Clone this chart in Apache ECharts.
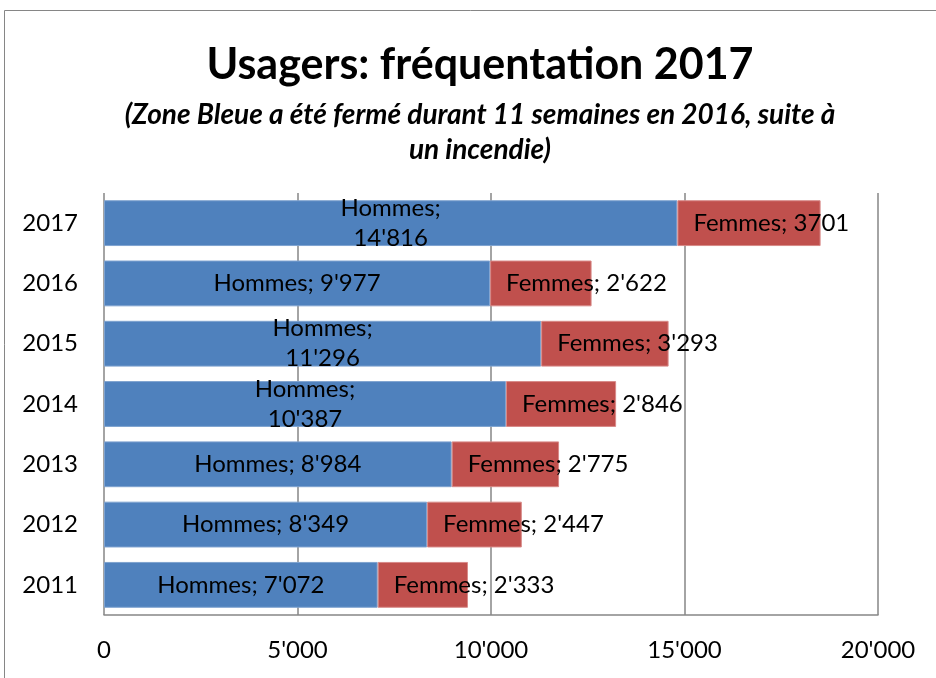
<!DOCTYPE html>
<html>
<head>
<meta charset="utf-8">
<script src="https://cdn.jsdelivr.net/npm/echarts@6/dist/echarts.min.js"></script>
<style>
  html, body { margin: 0; padding: 0; background: #fff; }
  #chart { width: 936px; height: 678px; }
</style>
</head>
<body>
<div id="chart"></div>
<script>
// données (de bas en haut)
const years = ['2011', '2012', '2013', '2014', '2015', '2016', '2017'];
const hommes = [7072, 8349, 8984, 10387, 11296, 9977, 14816];
const femmes = [2333, 2447, 2775, 2846, 3293, 2622, 3701];
const xTicks = [0, 5000, 10000, 15000, 20000];

const FONT = 'Lato, "Open Sans", sans-serif';

// séparateur de milliers avec apostrophe, comme dans Excel
function fmt(v) {
    return String(v).replace(/\B(?=(\d{3})+(?!\d))/g, "'");
}

let chart = echarts.init(document.getElementById('chart'));

let option = {
    animation: false,
    textStyle: { fontFamily: FONT, color: '#000' },
    title: [
        {
            text: 'Usagers: fréquentation 2017',
            left: 475, top: 39, textAlign: 'center',
            textStyle: { fontFamily: FONT, fontSize: 43, fontWeight: 'bold', color: '#000' }
        },
        {
            text: '(Zone Bleue a été fermé durant 11 semaines en 2016, suite à\nun incendie)',
            left: 475, top: 92, textAlign: 'center',
            textStyle: { fontFamily: FONT, fontSize: 28, fontWeight: 'bold', fontStyle: 'italic', color: '#000', lineHeight: 35 }
        }
    ],
    graphic: [{
        type: 'rect',
        shape: { x: 4.5, y: 10.5, width: 960, height: 700 },
        style: { fill: 'none', stroke: '#868686', lineWidth: 1 },
        silent: true
    }],
    grid: { left: 104, right: 58, top: 193, bottom: 63 },
    xAxis: {
        type: 'value',
        min: xTicks[0],
        max: xTicks[xTicks.length - 1],
        interval: 5000,
        axisLine: { show: true, lineStyle: { color: '#868686', width: 1.5 } },
        axisTick: { show: false },
        splitLine: { show: true, lineStyle: { color: '#868686', width: 1.5 } },
        axisLabel: { fontFamily: FONT, fontSize: 24, color: '#000', margin: 23, formatter: v => fmt(v) }
    },
    yAxis: {
        type: 'category',
        data: years,
        axisLine: { show: false },
        axisTick: { show: false },
        axisLabel: { fontFamily: FONT, fontSize: 24, color: '#000', margin: 26 }
    },
    series: [
        {
            name: 'Hommes',
            type: 'bar',
            stack: 'total',
            data: hommes,
            barCategoryGap: '24%',
            itemStyle: { color: '#4F81BD', borderColor: '#7FA3D0', borderWidth: 1 },
            label: {
                show: true,
                position: 'inside',
                fontFamily: FONT, fontSize: 24, color: '#000', lineHeight: 30,
                // Excel coupe les étiquettes longues sur deux lignes
                formatter: p => p.value >= 10000 ? 'Hommes;\n' + fmt(p.value) : 'Hommes; ' + fmt(p.value)
            }
        },
        {
            name: 'Femmes',
            type: 'bar',
            stack: 'total',
            data: femmes,
            itemStyle: { color: '#C0504D', borderColor: '#D88A88', borderWidth: 1 },
            label: {
                show: true,
                position: 'insideLeft',
                distance: 16,
                fontFamily: FONT, fontSize: 24, color: '#000',
                formatter: p => 'Femmes; ' + (p.name === '2017' ? String(p.value) : fmt(p.value))
            }
        }
    ]
};
chart.setOption(option);
</script>
</body>
</html>
